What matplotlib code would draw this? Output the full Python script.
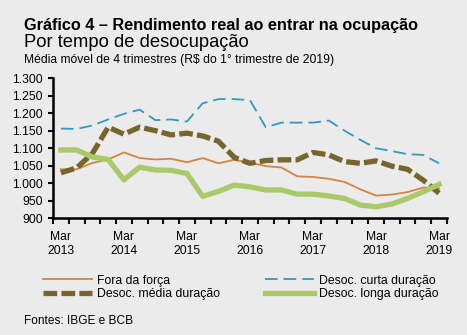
import numpy as np
import matplotlib.pyplot as plt
from matplotlib.ticker import FuncFormatter, FixedLocator

plt.rcParams['font.family'] = ['Liberation Sans', 'DejaVu Sans']

# quarters Mar 2013 .. Mar 2019
years = ["2013", "2014", "2015", "2016", "2017", "2018", "2019"]
fora = [1040, 1040, 1058, 1068, 1088, 1072, 1068, 1070, 1060, 1072, 1057, 1067,
        1059, 1049, 1045, 1020, 1018, 1013, 1004, 983, 965, 968, 975, 988, 985]
curta = [1156, 1155, 1165, 1182, 1198, 1210, 1180, 1182, 1176, 1228, 1240, 1240,
         1237, 1160, 1173, 1173, 1173, 1179, 1150, 1124, 1100, 1092, 1083, 1081, 1057]
media = [1030, 1044, 1085, 1160, 1140, 1160, 1150, 1138, 1143, 1135, 1120, 1074,
         1057, 1065, 1067, 1067, 1088, 1081, 1062, 1057, 1064, 1049, 1040, 1009, 972]
longa = [1095, 1095, 1075, 1068, 1010, 1046, 1038, 1037, 1028, 963, 977, 995,
         990, 981, 981, 969, 969, 964, 957, 938, 933, 941, 957, 976, 997]

bg = "#ebebeb"
fig = plt.figure(figsize=(4.67, 3.35), dpi=100, facecolor=bg)
ax = fig.add_axes([0.1135, 0.348, 0.8435, 0.419], facecolor=bg)

x = np.arange(len(fora)) + 0.5
l1, = ax.plot(x, fora, color="#d4843f", lw=1.3, label="Fora da força")
l2, = ax.plot(x, curta, color="#2e9ac4", lw=1.3, dashes=(7, 3.3), label="Desoc. curta duração")
l3, = ax.plot(x, media, color="#76652c", lw=3.8, dashes=(2.6, 0.8), label="Desoc. média duração")
l4, = ax.plot(x, longa, color="#a9c96b", lw=3.8, label="Desoc. longa duração")

ax.set_xlim(0, len(fora))
ax.set_ylim(900, 1300)
ax.set_yticks(np.arange(900, 1301, 50))
ax.yaxis.set_major_formatter(FuncFormatter(lambda v, p: f"{int(v):,}".replace(",", ".")))
ax.xaxis.set_major_locator(FixedLocator(np.arange(0, len(fora) + 1)))
ax.set_xticklabels([])
ax.xaxis.set_minor_locator(FixedLocator(np.arange(len(years)) * 4 + 0.5))
ax.set_xticklabels(["Mar\n" + y for y in years], minor=True)
ax.tick_params(axis="x", which="major", length=4, width=1.5, direction="out", color="black")
ax.tick_params(axis="x", which="minor", length=0, pad=9, labelsize=8.7)
ax.tick_params(axis="y", length=3.5, width=1.5, labelsize=8.7, pad=4)
for s in ["top", "right"]:
    ax.spines[s].set_visible(False)
for s in ["left", "bottom"]:
    ax.spines[s].set_linewidth(1.8)

fig.text(0.051, 0.911, "Gráfico 4 – Rendimento real ao entrar na ocupação",
         fontsize=11.7, fontweight="bold")
fig.text(0.051, 0.859, "Por tempo de desocupação", fontsize=13.2)
fig.text(0.051, 0.811, "Média móvel de 4 trimestres (R$ do 1° trimestre de 2019)", fontsize=8.7)
fig.text(0.051, 0.033, "Fontes: IBGE e BCB", fontsize=8.6)

fig.legend([l1, l3, l2, l4], [l.get_label() for l in [l1, l3, l2, l4]],
           loc="upper left", bbox_to_anchor=(0.082, 0.195), ncol=2, frameon=False,
           fontsize=8.8, handlelength=4.0, handletextpad=0.4, columnspacing=3.7,
           labelspacing=0.1, borderaxespad=0)

fig.savefig("out.png", dpi=100, facecolor=bg)
